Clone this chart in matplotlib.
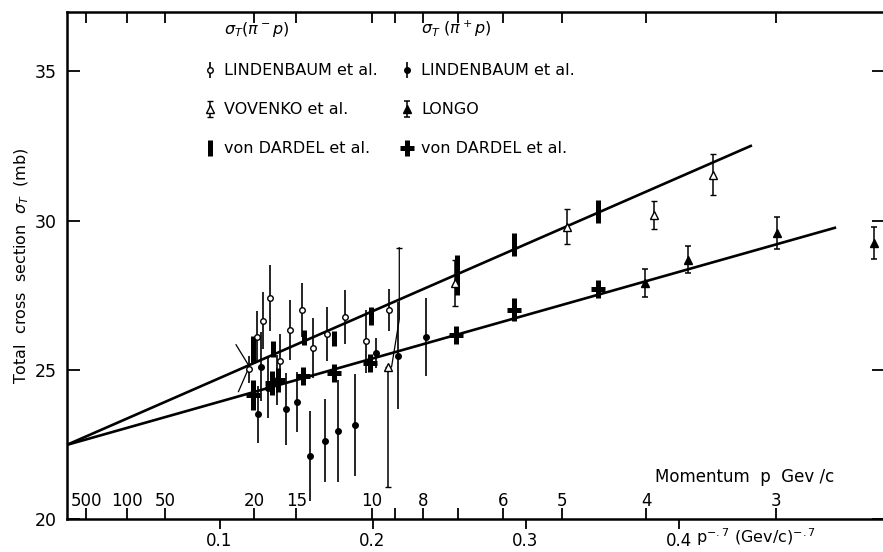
import numpy as np
import matplotlib
matplotlib.use("Agg")
import matplotlib.pyplot as plt
from matplotlib.lines import Line2D

plt.rcParams['font.family'] = ['DejaVu Sans']
plt.rcParams['mathtext.fontset'] = 'dejavusans'

# --- data (x = p^-0.7, y = sigma_T in mb) ---
# Lindenbaum et al., pi- p (open circles)
lind_m_x = [0.1193, 0.1243, 0.1282, 0.1330, 0.1395, 0.1461, 0.1537, 0.1609, 0.1705, 0.1822, 0.1958, 0.2110]
lind_m_y = [25.02, 26.11, 26.65, 27.40, 25.30, 26.34, 27.01, 25.72, 26.20, 26.76, 25.95, 27.01]
lind_m_err = [0.45, 0.85, 0.95, 1.10, 0.90, 1.00, 0.90, 1.00, 0.90, 0.90, 1.05, 0.70]

# Lindenbaum et al., pi+ p (filled circles)
lind_p_x = [0.1250, 0.1269, 0.1319, 0.1378, 0.1433, 0.1509, 0.1592, 0.1688, 0.1772, 0.1886, 0.2023, 0.2167, 0.2350]
lind_p_y = [23.51, 25.11, 24.38, 24.66, 23.68, 23.93, 22.11, 22.63, 22.95, 23.15, 25.56, 25.47, 26.09]
lind_p_err = [0.95, 1.15, 1.00, 0.85, 1.20, 1.00, 1.50, 1.40, 1.70, 1.70, 0.50, 1.80, 1.30]

# Vovenko et al., pi- p (open triangles)
vov_x = [0.2103, 0.2539, 0.3273, 0.3840, 0.4223]
vov_y = [25.11, 27.90, 29.80, 30.19, 31.54]
vov_err_lo = [4.04, 0.76, 0.59, 0.47, 0.69]
vov_err_hi = [0.00, 0.79, 0.59, 0.47, 0.69]
# upper error of the first Vovenko point is drawn displaced to the right
vov_kink_x = [0.2125, 0.2175, 0.2175]
vov_kink_y = [25.11, 26.69, 29.09]

# Longo, pi+ p (filled triangles)
longo_x = [0.3781, 0.4060, 0.4642, 0.5280]
longo_y = [27.90, 28.69, 29.58, 29.25]
longo_err = [0.47, 0.46, 0.54, 0.55]

# von Dardel et al., pi- p (thick bars)
dard_m_x = [0.1217, 0.1348, 0.1552, 0.1748, 0.1988, 0.2550, 0.2927, 0.3476]
dard_m_y = [25.68, 25.70, 26.09, 26.05, 26.80, 28.18, 29.21, 30.31]
dard_m_err = [0.46, 0.26, 0.25, 0.25, 0.30, 0.67, 0.39, 0.39]

# von Dardel et al., pi+ p (thick crosses)
dard_p_x = [0.1217, 0.1343, 0.1385, 0.1544, 0.1748, 0.1984, 0.2546, 0.2927, 0.3476]
dard_p_y = [24.16, 24.55, 24.66, 24.80, 24.89, 25.24, 26.17, 27.01, 27.70]
dard_p_err = [0.50, 0.40, 0.40, 0.30, 0.30, 0.30, 0.30, 0.39, 0.30]

# thin construction lines near 20 GeV/c
mark_x = [0.1108, 0.1195, 0.1124]
mark_y = [25.84, 25.11, 24.27]

# straight-line fits, both start at p -> infinity
fit_m_x = [0.0, 0.448]
fit_m_y = [22.48, 32.52]
fit_p_x = [0.0, 0.503]
fit_p_y = [22.48, 29.77]

# momentum scale (GeV/c) drawn along the p^-0.7 axis
mom_p = [500, 100, 50, 20, 15, 10, 9, 8, 7, 6, 5, 4, 3]
mom_labels = ['500', '100', '50', '20', '15', '10', '', '8', '', '6', '5', '4', '3']
x_ticks = [0.1, 0.2, 0.3, 0.4]
x_ticklabels = ['0.1', '0.2', '0.3', '0.4']
y_ticks = [20, 25, 30, 35]

W, H = 883, 552
fig = plt.figure(figsize=(W / 100, H / 100), dpi=100)
ax = fig.add_axes([66.5 / W, (H - 519) / H, (884 - 66.5) / W, (519 - 11.7) / H])
ax.set_xlim(0, 0.5343)
ax.set_ylim(20, 37)

# fit lines
ax.plot(fit_m_x, fit_m_y, color='black', lw=1.9, solid_capstyle='butt', zorder=2)
ax.plot(fit_p_x, fit_p_y, color='black', lw=1.9, solid_capstyle='butt', zorder=2)
ax.plot(mark_x, mark_y, color='black', lw=0.9, zorder=2)
ax.plot(vov_kink_x, vov_kink_y, color='black', lw=0.9, zorder=2)
ax.plot(vov_kink_x[-1:], vov_kink_y[-1:], marker='_', ms=5, mew=1.0, color='black', zorder=2)

h_dm = ax.errorbar(dard_m_x, dard_m_y, yerr=dard_m_err, fmt='none', ecolor='black',
                   elinewidth=3.6, capsize=0, zorder=3, label='von DARDEL et al.')
h_dp = ax.errorbar(dard_p_x, dard_p_y, yerr=dard_p_err, fmt='_', color='black', ms=9.5, mew=3.6,
                   elinewidth=3.6, capsize=0, zorder=3, label='von DARDEL et al.')
h_lm = ax.errorbar(lind_m_x, lind_m_y, yerr=lind_m_err, fmt='o', mfc='white', mec='black', ms=4,
                   mew=1.0, ecolor='black', elinewidth=1.2, capsize=0, zorder=4,
                   label='LINDENBAUM et al.')
h_lp = ax.errorbar(lind_p_x, lind_p_y, yerr=lind_p_err, fmt='o', color='black', ms=4,
                   elinewidth=1.2, capsize=0, zorder=4, label='LINDENBAUM et al.')
h_vov = ax.errorbar(vov_x, vov_y, yerr=[vov_err_lo, vov_err_hi], fmt='^', mfc='white', mec='black',
                    ms=5.5, mew=1.0, ecolor='black', elinewidth=1.1, capsize=2.5, capthick=1.1,
                    zorder=4, label='VOVENKO et al.')
h_lon = ax.errorbar(longo_x, longo_y, yerr=longo_err, fmt='^', color='black', ms=5.5,
                    elinewidth=1.1, capsize=2.5, capthick=1.1, zorder=4, label='LONGO')

# axes, ticks
for s in ax.spines.values():
    s.set_linewidth(1.8)
ax.set_yticks(y_ticks)
ax.tick_params(axis='y', direction='in', length=9, width=1.3, right=True, labelsize=12.5, pad=7)
ax.set_xticks(x_ticks)
ax.set_xticklabels(x_ticklabels)
ax.tick_params(axis='x', which='major', direction='out', length=7, width=1.3, top=False,
               labelsize=12, pad=2)
ax.set_xticks([p ** -0.7 for p in mom_p], minor=True)
ax.set_xticklabels(mom_labels, minor=True)
ax.tick_params(axis='x', which='minor', direction='in', length=8, width=1.3, top=True,
               labelsize=12, pad=-19.5)

ax.set_ylabel(r'Total  cross  section  $\sigma_T$  (mb)', fontsize=11.5, labelpad=3)
ax.text(0.72, 0.083, 'Momentum  p  Gev /c', transform=ax.transAxes, fontsize=12,
        ha='left', va='center')
ax.text(0.77, -0.036, r'p$^{-.7}$ (Gev/c)$^{-.7}$', transform=ax.transAxes, fontsize=11.5,
        ha='left', va='center')

# legend in two columns with headers
blank = Line2D([], [], linestyle='none')
handles = [blank, h_lm, h_vov, h_dm, blank, h_lp, h_lon, h_dp]
labels = [r'$\sigma_T(\pi^-p)$', 'LINDENBAUM et al.', 'VOVENKO et al.', 'von DARDEL et al.',
          r'$\sigma_T\ (\pi^+p)$', 'LINDENBAUM et al.', 'LONGO', 'von DARDEL et al.']
ax.legend(handles, labels, ncol=2, loc='upper left', bbox_to_anchor=(0.16, 0.998),
          frameon=False, fontsize=11.5, handlelength=0.8, handletextpad=0.5,
          columnspacing=1.4, labelspacing=1.5, borderaxespad=0)

fig.savefig('out.png', dpi=100)
